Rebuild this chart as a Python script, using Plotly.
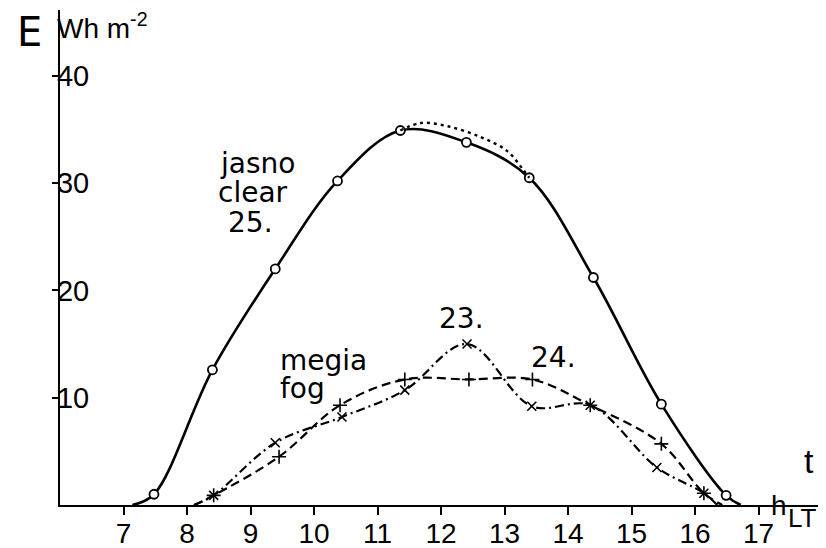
import plotly.graph_objects as go

# ---- data (hours LT, energy Wh m^-2) ----
clear_hours = [7.14, 7.48, 8.40, 9.39, 10.37, 11.36, 12.40, 13.39, 14.40, 15.47, 16.49, 16.72]
clear_vals = [0.0, 1.0, 12.6, 22.0, 30.2, 34.9, 33.8, 30.5, 21.2, 9.4, 0.9, 0.0]

dotted_hours = [11.36, 11.68, 12.10, 12.62, 13.04, 13.30, 13.39]
dotted_vals = [34.9, 35.6, 35.3, 34.3, 33.0, 31.2, 30.5]

fog23_hours = [8.11, 8.42, 9.39, 10.44, 11.43, 12.41, 13.43, 14.35, 15.40, 16.14, 16.35]
fog23_vals = [0.0, 0.9, 5.8, 8.2, 10.7, 15.0, 9.2, 9.3, 3.5, 1.1, 0.0]

fog24_hours = [8.11, 8.42, 9.45, 10.41, 11.43, 12.44, 13.44, 14.35, 15.47, 16.14, 16.43]
fog24_vals = [0.0, 0.9, 4.5, 9.3, 11.7, 11.7, 11.7, 9.3, 5.7, 1.1, 0.0]

x_ticks = [7, 8, 9, 10, 11, 12, 13, 14, 15, 16, 17]
y_ticks = [10, 20, 30, 40]

# ---- layout geometry (page body has an 8px margin) ----
OFF = 8
WIN_W, WIN_H = 826, 548
FIG_W, FIG_H = WIN_W - OFF, WIN_H - OFF
PLOT_L, PLOT_T, W, H = 60, 10, 766, 495      # plot area in window pixels
L, T = PLOT_L - OFF, PLOT_T - OFF


def P(x, y):
    """window pixel -> paper coords"""
    return (x - PLOT_L) / W, (PLOT_T + H - y) / H


TEXT_FONT = "DejaVu Sans"
NUM_FONT = "Liberation Sans"

fig = go.Figure()

# clear day curve
fig.add_trace(go.Scatter(x=clear_hours, y=clear_vals, mode="lines",
                         line=dict(color="black", width=2.6, shape="spline", smoothing=1.0),
                         hoverinfo="skip", showlegend=False))
fig.add_trace(go.Scatter(x=clear_hours[1:-1], y=clear_vals[1:-1], mode="markers",
                         marker=dict(symbol="circle", size=9, color="white",
                                     line=dict(color="black", width=1.8)),
                         showlegend=False))
fig.add_trace(go.Scatter(x=dotted_hours, y=dotted_vals, mode="lines",
                         line=dict(color="black", width=2.4, dash="3px,4px", shape="spline"),
                         showlegend=False))

# fog curves
fig.add_trace(go.Scatter(x=fog24_hours, y=fog24_vals, mode="lines",
                         line=dict(color="black", width=2.2, dash="9px,5px", shape="spline", smoothing=1.0),
                         showlegend=False))
fig.add_trace(go.Scatter(x=fog24_hours[1:-1], y=fog24_vals[1:-1], mode="markers",
                         marker=dict(symbol="cross-thin", size=10,
                                     line=dict(color="black", width=1.6)),
                         showlegend=False))
fig.add_trace(go.Scatter(x=fog23_hours, y=fog23_vals, mode="lines",
                         line=dict(color="black", width=2.2, dash="9px,4px,2px,4px", shape="spline", smoothing=1.0),
                         showlegend=False))
fig.add_trace(go.Scatter(x=fog23_hours[1:-1], y=fog23_vals[1:-1], mode="markers",
                         marker=dict(symbol="x-thin", size=9,
                                     line=dict(color="black", width=1.6)),
                         showlegend=False))

annotations = []


def add_text(text, px, py, size=28, font=TEXT_FONT, xanchor="center"):
    xp, yp = P(px, py)
    annotations.append(dict(text=text, x=xp, y=yp, xref="paper", yref="paper",
                            xanchor=xanchor, yanchor="middle", showarrow=False,
                            borderpad=0,
                            font=dict(family=font, size=size, color="black")))


add_text("E", 29, 32, size=40, font=TEXT_FONT)
add_text("Wh m<sup>-2</sup>", 56, 26, size=28, font=NUM_FONT, xanchor="left")
add_text("jasno", 219, 163, size=28, xanchor="left")
add_text("clear", 217, 192, size=28, xanchor="left")
add_text("25.", 227, 222, size=28, xanchor="left")
add_text("megia", 279, 360, size=28, xanchor="left")
add_text("fog", 279, 388, size=28, xanchor="left")
add_text("23.", 462, 318, size=28)
add_text("24.", 553, 357, size=28)
add_text("t", 809, 461, size=34, font=NUM_FONT)
add_text("h", 779, 505, size=28, font=NUM_FONT)
add_text("LT", 818, 518, size=26, font=NUM_FONT, xanchor="right")

x0 = 6.0
x1 = x0 + W / 63.5
y1 = H / 10.73

fig.update_layout(
    width=FIG_W, height=FIG_H,
    margin=dict(l=L, r=FIG_W - L - W, t=T, b=FIG_H - T - H, autoexpand=False),
    paper_bgcolor="white", plot_bgcolor="white",
    showlegend=False,
    annotations=annotations,
    xaxis=dict(range=[x0, x1], tickvals=x_ticks, ticktext=[str(v) for v in x_ticks],
               ticks="outside", ticklen=8, tickwidth=1.5, tickcolor="black",
               ticklabelstandoff=-6,
               showline=True, linecolor="black", linewidth=1.8,
               showgrid=False, zeroline=False, automargin=False,
               tickfont=dict(family=NUM_FONT, size=28, color="black")),
    yaxis=dict(range=[0, y1], tickvals=y_ticks, ticktext=[str(v) for v in y_ticks],
               ticks="outside", ticklen=6, tickwidth=1.5, tickcolor="black",
               ticklabelposition="inside",
               showline=True, linecolor="black", linewidth=1.5,
               showgrid=False, zeroline=False, automargin=False,
               tickfont=dict(family=NUM_FONT, size=29, color="black")),
)

fig.write_html("out.html")
